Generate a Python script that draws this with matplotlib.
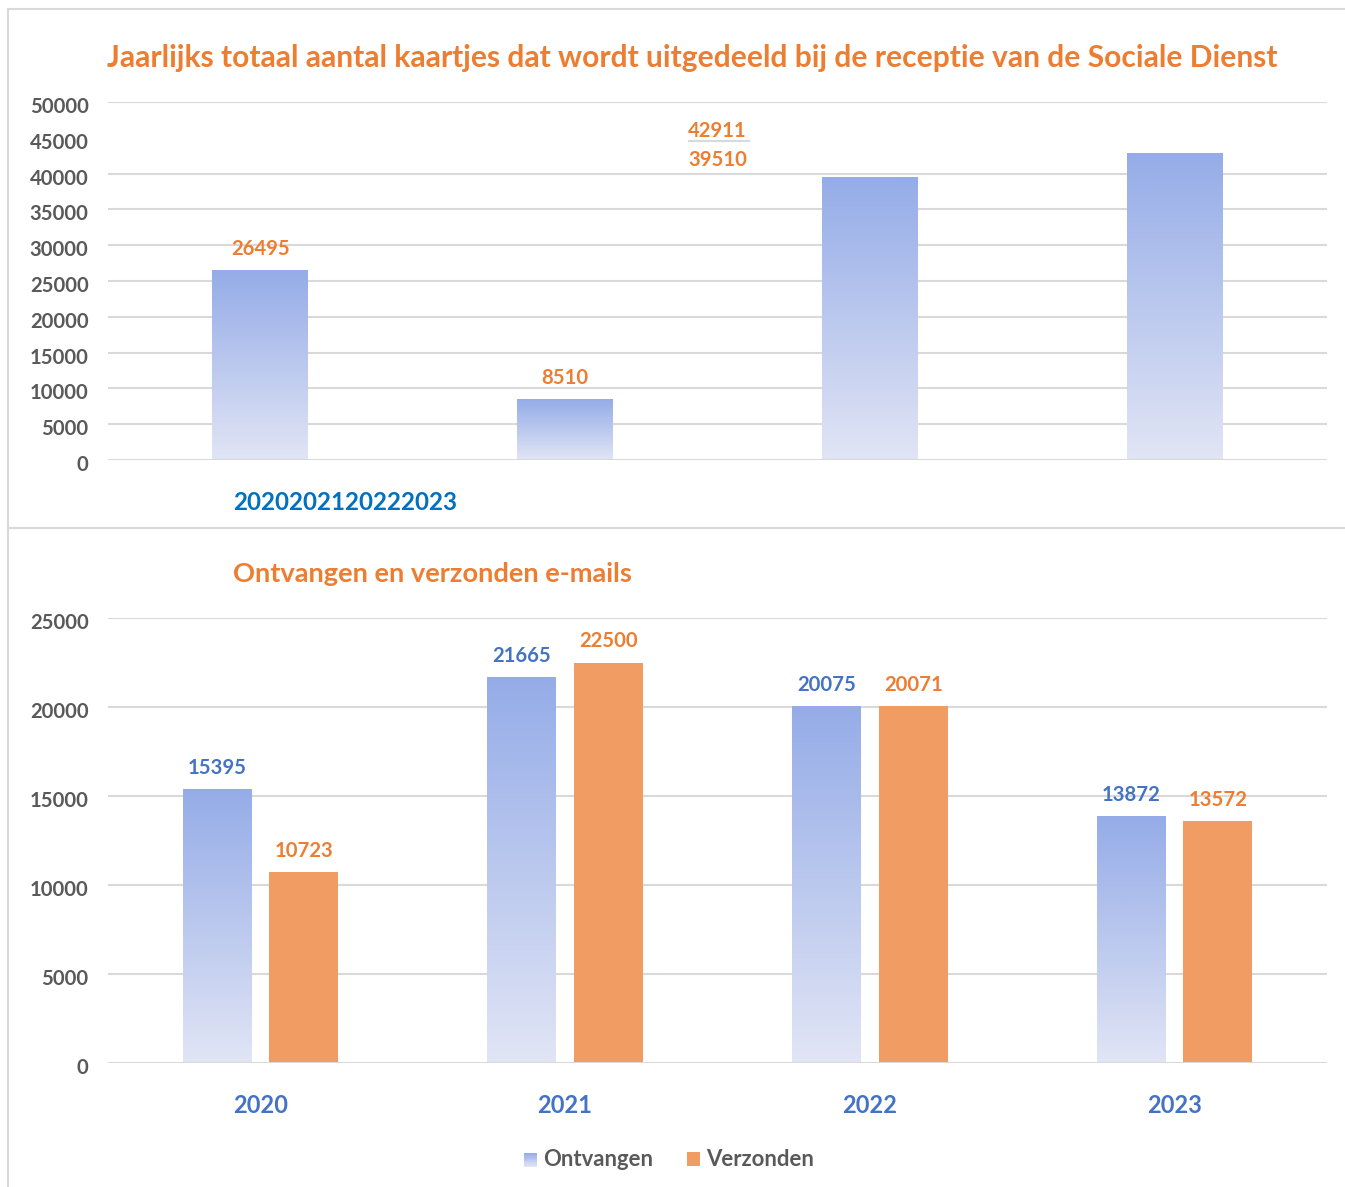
import numpy as np
import matplotlib
matplotlib.use("Agg")
import matplotlib.pyplot as plt
import matplotlib.transforms as mtransforms
from matplotlib.colors import LinearSegmentedColormap
from matplotlib.patches import Rectangle
from matplotlib.legend_handler import HandlerBase
from matplotlib.lines import Line2D

plt.rcParams['font.family'] = ['Lato', 'DejaVu Sans']
plt.rcParams['font.weight'] = 'bold'

## Data
years = ['2020', '2021', '2022', '2023']
kaartjes = [26495, 8510, 39510, 42911]
ontvangen = [15395, 21665, 20075, 13872]
verzonden = [10723, 22500, 20071, 13572]

ORANGE = '#ED7D31'
BLUE_TXT = '#4472C4'
GREY = '#595959'
GRID = '#D9D9D9'
BAR_OR = '#F09C62'
grad_cmap = LinearSegmentedColormap.from_list('g', ['#E1E5F5', '#95ACE8'])
grad = np.linspace(0, 1, 256).reshape(-1, 1)

W, H = 1345, 1187
fig = plt.figure(figsize=(W/100, H/100), dpi=100)
down = mtransforms.ScaledTranslation(0, -3/100, fig.dpi_scale_trans)

def px_axes(left, top, right, bottom):
    return fig.add_axes([left/W, 1-bottom/H, (right-left)/W, (bottom-top)/H])

def style_axis(ax, ymax, step, skip=()):
    ax.set_ylim(0, ymax)
    ax.set_xlim(-0.5, 3.5)
    ax.set_yticks(np.arange(0, ymax+1, step))
    for y in np.arange(step, ymax+1, step):
        if y in skip: continue
        ax.axhline(y, color=GRID, lw=1.5, zorder=0)
    for s in ax.spines.values(): s.set_visible(False)
    ax.axhline(0, color=GRID, lw=1.5, zorder=3)
    ax.tick_params(axis='y', length=0, pad=14, labelsize=14.6, labelcolor=GREY)
    ax.tick_params(axis='x', length=0)
    for lab in ax.get_yticklabels():
        lab.set_transform(lab.get_transform() + down)

def gradient_bars(ax, bars):
    for b in bars:
        x0, y0 = b.get_x(), b.get_y()
        im = ax.imshow(grad, extent=[x0, x0+b.get_width(), y0, y0+b.get_height()],
                       origin='lower', cmap=grad_cmap, aspect='auto', zorder=2)
        im.set_clip_path(b)

## Top chart
ax1 = px_axes(108, 102, 1327, 460)
style_axis(ax1, 50000, 5000, skip=(45000,))
x = np.arange(len(years))
bars = ax1.bar(x, kaartjes, width=0.315, facecolor='none', edgecolor='none', zorder=2)
gradient_bars(ax1, bars)
ax1.set_xlim(-0.5, 3.5); ax1.set_ylim(0, 50000)
ax1.set_xticks([])
for i in range(2):
    ax1.annotate(str(kaartjes[i]), (x[i], kaartjes[i]), xytext=(0, 8), textcoords='offset points',
                 ha='center', va='bottom', color=ORANGE, fontsize=14.6, fontweight='bold')
# labels of 2022 / 2023 sit out of place, as in the original
ax1.text(1.5, 45950, str(kaartjes[3]), ha='center', va='center', color=ORANGE, fontsize=14.6, fontweight='bold')
ax1.text(1.5, 41900, str(kaartjes[2]), ha='center', va='center', color=ORANGE, fontsize=14.6, fontweight='bold')
ax1.plot([1.406, 1.603], [44600, 44600], color=GRID, lw=1.5, zorder=0)
fig.text(233/W, 1-503/H, ''.join(years), color='#0070C0', fontsize=17.4, fontweight='bold',
         ha='left', va='center')
fig.text(692/W, 1-58/H, 'Jaarlijks totaal aantal kaartjes dat wordt uitgedeeld bij de receptie van de Sociale Dienst',
         color=ORANGE, fontsize=21.6, fontweight='bold', ha='center', va='center')

## Bottom chart
ax2 = px_axes(108, 618, 1327, 1063)
style_axis(ax2, 25000, 5000)
off, bw = 0.142, 0.226
b_on = ax2.bar(x-off, ontvangen, width=bw, facecolor='none', edgecolor='none', zorder=2)
gradient_bars(ax2, b_on)
ax2.bar(x+off, verzonden, width=bw, color=BAR_OR, zorder=2)
ax2.set_xlim(-0.5, 3.5); ax2.set_ylim(0, 25000)
for i in range(len(years)):
    ax2.annotate(str(ontvangen[i]), (x[i]-off, ontvangen[i]), xytext=(0, 8), textcoords='offset points',
                 ha='center', va='bottom', color=BLUE_TXT, fontsize=14.6, fontweight='bold')
    ax2.annotate(str(verzonden[i]), (x[i]+off, verzonden[i]), xytext=(0, 8), textcoords='offset points',
                 ha='center', va='bottom', color=ORANGE, fontsize=14.6, fontweight='bold')
ax2.set_xticks(x)
ax2.set_xticklabels(years, color=BLUE_TXT, fontsize=17, fontweight='bold')
ax2.tick_params(axis='x', pad=22.5)
fig.text(233/W, 1-574/H, 'Ontvangen en verzonden e-mails', color=ORANGE, fontsize=19.6,
         fontweight='bold', ha='left', va='center')

class GradHandler(HandlerBase):
    def create_artists(self, legend, orig, xd, yd, width, height, fontsize, trans):
        n = 12
        arts = []
        for k in range(n):
            c = grad_cmap(1 - k/(n-1))
            arts.append(Rectangle((xd, yd + height*(n-1-k)/n), width, height/n + 0.3,
                                  facecolor=c, edgecolor='none', transform=trans))
        return arts

h_on = Rectangle((0, 0), 1, 1)
h_vz = Rectangle((0, 0), 1, 1, facecolor=BAR_OR, edgecolor='none')
fig.legend([h_on, h_vz], ['Ontvangen', 'Verzonden'], handler_map={h_on: GradHandler()},
           loc='center', bbox_to_anchor=(669/W, 1-1160/H), ncol=2, frameon=False,
           prop={'size': 15.9, 'weight': 'bold'}, labelcolor=GREY, handlelength=0.6,
           handleheight=0.6, handletextpad=0.3, columnspacing=1.5)

## Frame lines
fig.add_artist(Line2D([8/W, 1], [1-9/H, 1-9/H], color=GRID, lw=1.5))
fig.add_artist(Line2D([8/W, 8/W], [1-9/H, 0], color=GRID, lw=1.5))
fig.add_artist(Line2D([8/W, 1], [1-528/H, 1-528/H], color=GRID, lw=1.5))

fig.savefig('out.png', dpi=100, facecolor='white')
